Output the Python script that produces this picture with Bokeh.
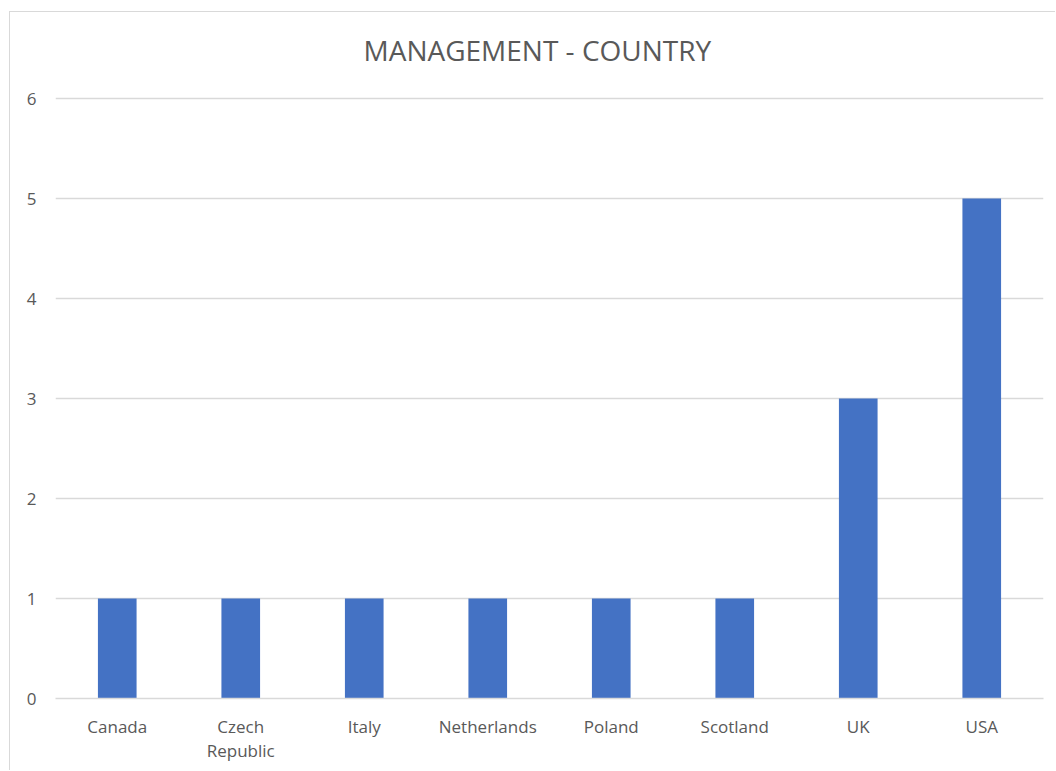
from bokeh.plotting import figure
from bokeh.models import FactorRange, Range1d, FixedTicker, CategoricalAxis, CustomJSTickFormatter
from bokeh.embed import file_html
from bokeh.resources import INLINE

countries = ["Canada", "Czech Republic", "Italy", "Netherlands", "Poland", "Scotland", "UK", "USA"]
counts = [1, 1, 1, 1, 1, 1, 3, 5]
y_ticks = [0, 1, 2, 3, 4, 5, 6]
# the long category name is wrapped over two label rows
wrapped = {"Czech Republic": ["Czech", "Republic"]}

FONT = "Open Sans"
GREY = "#595959"

p = figure(
    width=1046, height=759,
    x_range=FactorRange(factors=countries, range_padding=0),
    y_range=Range1d(0, 6.30),
    output_backend="svg", toolbar_location=None,
    min_border_left=45, min_border_right=13, min_border_top=56, min_border_bottom=73,
)
p.styles = {"border-left": "1px solid #d9d9d9", "border-top": "1px solid #d9d9d9",
            "margin-left": "9px", "margin-top": "11px"}

p.vbar(x=countries, top=counts, width=0.313, color="#4472C4", line_color=None)

p.title.text = "MANAGEMENT - COUNTRY"
p.title.align = "left"
p.title.text_font = FONT
p.title.text_font_size = "28px"
p.title.text_font_style = "normal"
p.title.text_color = GREY
p.title.offset = 308
p.title.standoff = 0

p.outline_line_color = None
p.xgrid.grid_line_color = None
p.ygrid.grid_line_color = "#d9d9d9"
p.ygrid.grid_line_width = 1.3

p.yaxis.ticker = FixedTicker(ticks=y_ticks)
p.yaxis.axis_line_color = None
p.yaxis.major_tick_line_color = None
p.yaxis.minor_tick_line_color = None
p.yaxis.major_tick_out = 0
p.yaxis.major_label_text_font = FONT
p.yaxis.major_label_text_font_size = "17px"
p.yaxis.major_label_text_color = GREY
p.yaxis.major_label_standoff = 19

def style_x(ax):
    ax.major_tick_line_color = None
    ax.minor_tick_line_color = None
    ax.major_tick_out = 0
    ax.major_tick_in = 0
    ax.major_label_text_font = FONT
    ax.major_label_text_font_size = "17px"
    ax.major_label_text_color = GREY

xa = p.xaxis[0]
style_x(xa)
xa.axis_line_color = "#d9d9d9"
xa.axis_line_width = 1.3
xa.major_label_standoff = 16
xa.formatter = CustomJSTickFormatter(args=dict(w=wrapped),
                                     code="return (tick in w) ? w[tick][0] : tick;")

xa2 = CategoricalAxis()
style_x(xa2)
xa2.axis_line_color = None
xa2.major_label_standoff = -2
xa2.formatter = CustomJSTickFormatter(args=dict(w=wrapped),
                                      code="return (tick in w) ? w[tick][1] : '';")
p.add_layout(xa2, "below")

p.background_fill_color = "white"
p.border_fill_color = "white"

open("out.html", "w").write(file_html(p, INLINE))
